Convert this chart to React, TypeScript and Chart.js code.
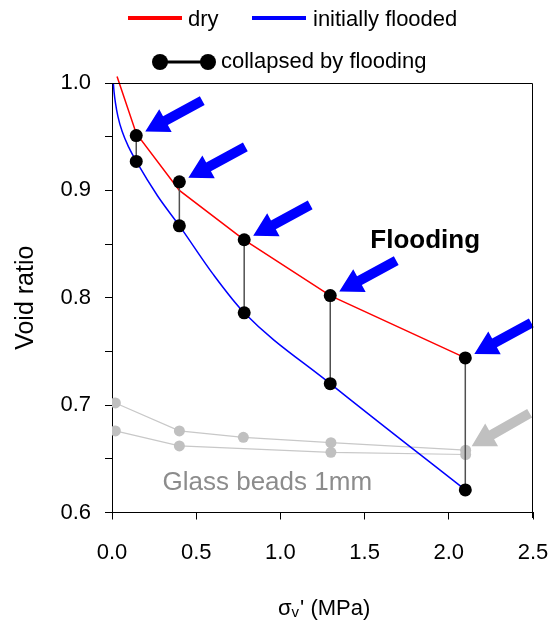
import React, { useEffect, useRef } from 'react';
import { Chart, registerables } from 'chart.js';

Chart.register(...registerables);

// ---- data ----
const dryCurveX = [0.03, 0.144, 0.4, 0.785, 1.296, 2.098];
const dryCurveY = [1.006, 0.953, 0.9, 0.854, 0.802, 0.744];
const floodCurveX = [0.008, 0.012, 0.02, 0.035, 0.06, 0.1, 0.148, 0.27, 0.405, 0.6, 0.785, 1.296, 2.098];
const floodCurveY = [1.0, 0.992, 0.982, 0.969, 0.955, 0.94, 0.926, 0.895, 0.866, 0.822, 0.786, 0.72, 0.621];
const collapseX = [0.144, 0.4, 0.785, 1.296, 2.098];
const dryCollapseY = [0.951, 0.908, 0.854, 0.802, 0.744];
const floodCollapseY = [0.927, 0.867, 0.786, 0.72, 0.621];
const beadsUpperX = [0.02, 0.4, 0.78, 1.3, 2.1];
const beadsUpperY = [0.702, 0.676, 0.67, 0.665, 0.658];
const beadsLowerX = [0.02, 0.4, 1.3, 2.1];
const beadsLowerY = [0.676, 0.662, 0.656, 0.654];
const xTickValues = [0, 0.5, 1.0, 1.5, 2.0, 2.5];
const yMajorTicks = [0.6, 0.7, 0.8, 0.9, 1.0];
const yMinorTicks = [0.65, 0.75, 0.85, 0.95];

const legendLabels = ['dry', 'initially flooded', 'collapsed by flooding'];
const yTitle = 'Void ratio';
const floodingLabel = 'Flooding';
const beadsLabel = 'Glass beads 1mm';

const FONT = "'Liberation Sans', Arial, Helvetica, sans-serif";
const RED = '#ff0000';
const BLUE = '#0000ff';
const GRAY_MARK = '#c0c0c0';
const GRAY_LINE = '#c8c8c8';

function pts(xs: number[], ys: number[]) {
  return xs.map((x, i) => ({ x, y: ys[i] }));
}

function drawArrow(ctx: CanvasRenderingContext2D, tx: number, ty: number, vx: number, vy: number, color: string) {
  const len = Math.hypot(vx, vy);
  const ux = vx / len, uy = vy / len;
  const nx = -uy, ny = ux;
  const head = 23, hw = 13, sw = 5;
  const bx = tx + ux * head, by = ty + uy * head;
  const ex = tx + vx, ey = ty + vy;
  ctx.save();
  ctx.fillStyle = color;
  ctx.beginPath();
  ctx.moveTo(tx, ty);
  ctx.lineTo(bx + nx * hw, by + ny * hw);
  ctx.lineTo(bx + nx * sw, by + ny * sw);
  ctx.lineTo(ex + nx * sw, ey + ny * sw);
  ctx.lineTo(ex - nx * sw, ey - ny * sw);
  ctx.lineTo(bx - nx * sw, by - ny * sw);
  ctx.lineTo(bx - nx * hw, by - ny * hw);
  ctx.closePath();
  ctx.fill();
  ctx.restore();
}

const decorPlugin = {
  id: 'decor',
  afterDatasetsDraw(chart: any) {
    const ctx: CanvasRenderingContext2D = chart.ctx;
    const xs = chart.scales.x, ys = chart.scales.y;
    collapseX.forEach((x, i) => {
      const px = xs.getPixelForValue(x);
      const py = ys.getPixelForValue(dryCollapseY[i]);
      drawArrow(ctx, px + 9, py - 4, 57, -31, BLUE);
    });
    const gx = xs.getPixelForValue(beadsUpperX[beadsUpperX.length - 1]);
    const gy = ys.getPixelForValue(beadsUpperY[beadsUpperY.length - 1]);
    drawArrow(ctx, gx + 6, gy - 4, 58, -33, GRAY_MARK);

    ctx.save();
    ctx.fillStyle = '#000';
    ctx.font = `bold 26px ${FONT}`;
    ctx.textAlign = 'center';
    ctx.textBaseline = 'alphabetic';
    ctx.fillText(floodingLabel, xs.getPixelForValue(1.86), ys.getPixelForValue(0.846));
    ctx.fillStyle = '#8c8c8c';
    ctx.font = `26px ${FONT}`;
    ctx.textAlign = 'left';
    ctx.fillText(beadsLabel, xs.getPixelForValue(0.3), ys.getPixelForValue(0.621));
    ctx.restore();
  },
  afterDraw(chart: any) {
    const ctx: CanvasRenderingContext2D = chart.ctx;
    const { left, right, top, bottom } = chart.chartArea;
    ctx.save();
    ctx.strokeStyle = '#000';
    ctx.lineWidth = 1;
    ctx.beginPath();
    const t = Math.round(top) + 0.5;
    const r = Math.round(right) - 0.5;
    ctx.moveTo(Math.round(left), t);
    ctx.lineTo(r, t);
    ctx.lineTo(r, Math.round(bottom) + 5);
    ctx.stroke();

    // legend row 1
    ctx.lineWidth = 4;
    ctx.strokeStyle = RED;
    ctx.beginPath();
    ctx.moveTo(128, 18);
    ctx.lineTo(182, 18);
    ctx.stroke();
    ctx.strokeStyle = BLUE;
    ctx.beginPath();
    ctx.moveTo(252, 18);
    ctx.lineTo(306, 18);
    ctx.stroke();
    ctx.fillStyle = '#000';
    ctx.font = `22px ${FONT}`;
    ctx.textAlign = 'left';
    ctx.textBaseline = 'alphabetic';
    ctx.fillText(legendLabels[0], 188, 26);
    ctx.fillText(legendLabels[1], 313, 26);
    // legend row 2
    ctx.strokeStyle = '#000';
    ctx.lineWidth = 3;
    ctx.beginPath();
    ctx.moveTo(160, 62);
    ctx.lineTo(208, 62);
    ctx.stroke();
    ctx.beginPath();
    ctx.arc(160, 62, 8, 0, Math.PI * 2);
    ctx.fill();
    ctx.beginPath();
    ctx.arc(208, 62, 8, 0, Math.PI * 2);
    ctx.fill();
    ctx.fillText(legendLabels[2], 221, 68);

    // y title
    ctx.save();
    ctx.translate(33, (top + bottom) / 2);
    ctx.rotate(-Math.PI / 2);
    ctx.textAlign = 'center';
    ctx.font = `25px ${FONT}`;
    ctx.fillText(yTitle, 0, 0);
    ctx.restore();

    // x title: sigma with subscript v
    ctx.textAlign = 'left';
    const base = 615;
    let x = 278;
    ctx.font = `22px ${FONT}`;
    ctx.fillText('σ', x, base);
    x += ctx.measureText('σ').width;
    ctx.font = `15px ${FONT}`;
    ctx.fillText('v', x, base + 2);
    x += ctx.measureText('v').width + 1;
    ctx.font = `22px ${FONT}`;
    ctx.fillText("' (MPa)", x, base);
    ctx.restore();
  },
};

export default function App() {
  const ref = useRef<HTMLCanvasElement | null>(null);
  useEffect(() => {
    document.body.style.margin = '0';
    const canvas = ref.current!;
    const pairSets = collapseX.map((x, i) => ({
      label: 'pair' + i,
      data: [{ x, y: dryCollapseY[i] }, { x, y: floodCollapseY[i] }],
      showLine: true,
      borderColor: '#505050',
      borderWidth: 1.5,
      pointRadius: 6.5,
      pointBackgroundColor: '#000',
      pointBorderColor: '#000',
      pointBorderWidth: 0,
      order: 1,
    }));
    const chart = new Chart(canvas, {
      type: 'scatter',
      data: {
        datasets: [
          ...pairSets,
          {
            label: legendLabels[0],
            data: pts(dryCurveX, dryCurveY),
            showLine: true,
            borderColor: RED,
            borderWidth: 1.5,
            pointRadius: 0,
            clip: false as any,
            order: 2,
          },
          {
            label: legendLabels[1],
            data: pts(floodCurveX, floodCurveY),
            showLine: true,
            borderColor: BLUE,
            borderWidth: 1.5,
            pointRadius: 0,
            cubicInterpolationMode: 'monotone',
            order: 2,
          },
          {
            label: 'beads upper',
            data: pts(beadsUpperX, beadsUpperY),
            showLine: true,
            borderColor: GRAY_LINE,
            borderWidth: 1.2,
            pointRadius: 5.5,
            pointBackgroundColor: GRAY_MARK,
            pointBorderWidth: 0,
            order: 3,
          },
          {
            label: 'beads lower',
            data: pts(beadsLowerX, beadsLowerY),
            showLine: true,
            borderColor: GRAY_LINE,
            borderWidth: 1.2,
            pointRadius: 5.5,
            pointBackgroundColor: GRAY_MARK,
            pointBorderWidth: 0,
            order: 3,
          },
        ] as any,
      },
      options: {
        responsive: false,
        animation: false,
        devicePixelRatio: 1,
        layout: { padding: { top: 83, right: 20, left: 0, bottom: 0 } },
        plugins: { legend: { display: false }, tooltip: { enabled: false } },
        scales: {
          x: {
            type: 'linear',
            min: 0,
            max: 2.5,
            afterBuildTicks: (scale: any) => {
              scale.ticks = xTickValues.map((v) => ({ value: v }));
            },
            afterFit: (scale: any) => {
              scale.height = 111.5;
              scale.paddingLeft = 0;
              scale.paddingRight = 0;
            },
            ticks: {
              color: '#000',
              font: { size: 22, family: FONT },
              padding: 20,
              maxRotation: 0,
              autoSkip: false,
              callback: (v: any) => Number(v).toFixed(1),
            },
            grid: { drawOnChartArea: false, drawTicks: true, tickLength: 7, color: '#000', lineWidth: 1 },
            border: { display: true, color: '#000', width: 1 },
          },
          y: {
            type: 'linear',
            min: 0.6,
            max: 1.0,
            afterBuildTicks: (scale: any) => {
              scale.ticks = [...yMajorTicks, ...yMinorTicks]
                .sort((a, b) => a - b)
                .map((v) => ({ value: v }));
            },
            afterFit: (scale: any) => {
              scale.width = 112;
              scale.paddingTop = 0;
              scale.paddingBottom = 0;
            },
            ticks: {
              color: '#000',
              font: { size: 22, family: FONT },
              padding: 14,
              autoSkip: false,
              callback: (v: any) => {
                const n = Number(v);
                return yMajorTicks.some((m) => Math.abs(m - n) < 1e-6) ? n.toFixed(1) : '';
              },
            },
            grid: { drawOnChartArea: false, drawTicks: true, tickLength: 7, color: '#000', lineWidth: 1 },
            border: { display: true, color: '#000', width: 1 },
          },
        },
      } as any,
      plugins: [decorPlugin],
    });
    return () => chart.destroy();
  }, []);
  return (
    <div style={{ width: 553, height: 624 }}>
      <canvas ref={ref} width={553} height={624} style={{ display: 'block' }} />
    </div>
  );
}
